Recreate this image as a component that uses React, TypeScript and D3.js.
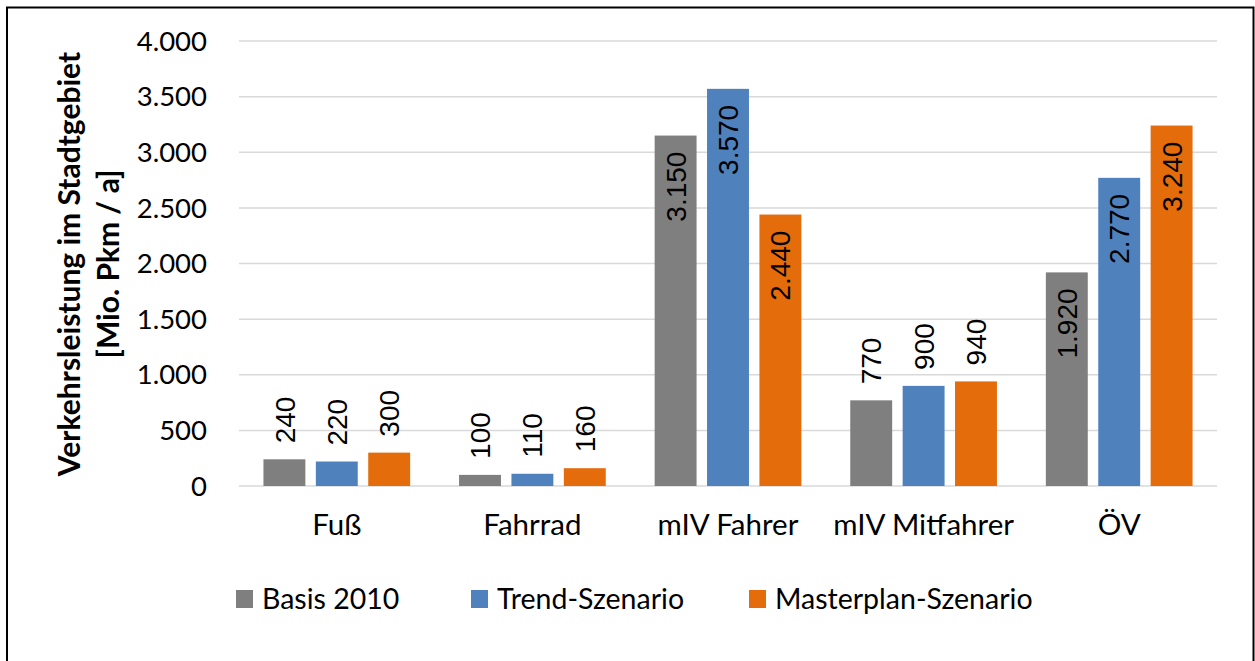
import React from "react";
import * as d3 from "d3";

const categories = ["Fuß", "Fahrrad", "mIV Fahrer", "mIV Mitfahrer", "ÖV"];
const seriesNames = ["Basis 2010", "Trend-Szenario", "Masterplan-Szenario"];
const basis2010 = [240, 100, 3150, 770, 1920];
const trend = [220, 110, 3570, 900, 2770];
const masterplan = [300, 160, 2440, 940, 3240];
const yTicks = [0, 500, 1000, 1500, 2000, 2500, 3000, 3500, 4000];
const colors = ["#7f7f7f", "#4f81bd", "#e46c0a"];

const W = 1255;
const H = 661;
const plot = { left: 239, right: 1217, top: 41, bottom: 486 };
const calibri = "Lato, 'Open Sans', sans-serif";
const arial = "'Liberation Sans', Arial, sans-serif";

const de = d3.formatLocale({ decimal: ",", thousands: ".", grouping: [3], currency: ["", " €"] });
const fmt = de.format(",d");

export default function App() {
  const seriesValues = [basis2010, trend, masterplan];

  const x0 = d3.scaleBand<string>().domain(categories).range([plot.left, plot.right]).paddingInner(0).paddingOuter(0);
  const bw = x0.bandwidth();
  const x1 = d3.scaleBand<string>().domain(seriesNames).range([bw * 0.125, bw * 0.875]).paddingInner(0.2).paddingOuter(0);
  const y = d3.scaleLinear().domain([0, 4000]).range([plot.bottom, plot.top]);

  const legendX = [236, 471, 749];

  return (
    <svg width={W} height={H} style={{ position: "absolute", left: 0, top: 0, background: "#fff" }}>
      <rect x={0} y={0} width={W} height={H} fill="#fff" />
      {/* outer frame */}
      <rect x={7} y={7.5} width={1246.5} height={H + 10} fill="none" stroke="#000" strokeWidth={2} />

      {/* gridlines */}
      {yTicks.map((t) => (
        <line key={t} x1={plot.left} x2={plot.right} y1={y(t)} y2={y(t)} stroke="#d9d9d9" strokeWidth={1.5} />
      ))}

      {/* y tick labels */}
      {yTicks.map((t) => (
        <text key={"yl" + t} x={207} y={y(t)} dy="0.35em" textAnchor="end" fontFamily={calibri} fontSize={27.5} fill="#000">
          {fmt(t)}
        </text>
      ))}

      {/* axis title */}
      <g transform={`translate(0, 264) rotate(-90)`} fontFamily={calibri} fontSize={30} fontWeight="bold" fill="#000" textAnchor="middle">
        <text x={0} y={80}>Verkehrsleistung im Stadtgebiet</text>
        <text x={0} y={119}>[Mio. Pkm / a]</text>
      </g>

      {/* bars */}
      {categories.map((c, ci) => (
        <g key={c} transform={`translate(${x0(c)},0)`}>
          {seriesNames.map((s, si) => {
            const v = seriesValues[si][ci];
            const bx = x1(s) as number;
            const cx = bx + x1.bandwidth() / 2;
            const top = y(v);
            const inside = v > 1500;
            return (
              <g key={s}>
                <rect x={bx} y={top} width={x1.bandwidth()} height={plot.bottom - top} fill={colors[si]} />
                <text
                  transform={`translate(${cx},${inside ? top + 16 : top - 16}) rotate(-90)`}
                  textAnchor={inside ? "end" : "start"}
                  dy="0.36em"
                  fontFamily={arial}
                  fontSize={28}
                  fill="#000"
                >
                  {fmt(v)}
                </text>
              </g>
            );
          })}
        </g>
      ))}

      {/* category labels */}
      {categories.map((c) => (
        <text key={"cl" + c} x={(x0(c) as number) + bw / 2} y={535} textAnchor="middle" fontFamily={calibri} fontSize={29.5} fill="#000">
          {c}
        </text>
      ))}

      {/* legend */}
      {seriesNames.map((s, si) => (
        <g key={"lg" + s} transform={`translate(${legendX[si]},599)`}>
          <rect x={0} y={-9} width={17} height={18} fill={colors[si]} />
          <text x={26} y={0} dy="0.35em" fontFamily={calibri} fontSize={28.5} fill="#000">
            {s}
          </text>
        </g>
      ))}
    </svg>
  );
}
